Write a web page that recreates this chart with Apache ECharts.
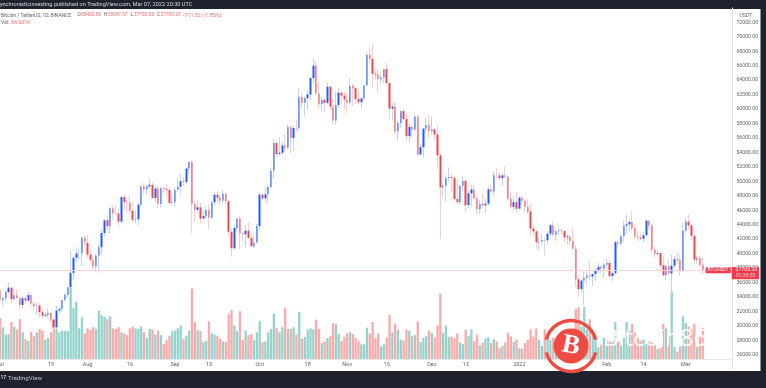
<!DOCTYPE html>
<html>
<head>
<meta charset="utf-8">
<style>html,body{margin:0;padding:0;background:#1e222d;overflow:hidden}#c{width:766px;height:388px;filter:blur(0.3px)}</style>
<script src="https://cdn.jsdelivr.net/npm/echarts@6/dist/echarts.min.js"></script>
</head>
<body>
<div id="c"></div>
<script>
const dates = [
"7/1","7/2","7/3","7/4","7/5","7/6","7/7","7/8","7/9","7/10","7/11","7/12","7/13","7/14","7/15","7/16","7/17","7/18","7/19","7/20","7/21","7/22","7/23","7/24","7/25","7/26","7/27","7/28","7/29","7/30","7/31",
"8/1","8/2","8/3","8/4","8/5","8/6","8/7","8/8","8/9","8/10","8/11","8/12","8/13","8/14","8/15","8/16","8/17","8/18","8/19","8/20","8/21","8/22","8/23","8/24","8/25","8/26","8/27","8/28","8/29","8/30","8/31",
"9/1","9/2","9/3","9/4","9/5","9/6","9/7","9/8","9/9","9/10","9/11","9/12","9/13","9/14","9/15","9/16","9/17","9/18","9/19","9/20","9/21","9/22","9/23","9/24","9/25","9/26","9/27","9/28","9/29","9/30",
"10/1","10/2","10/3","10/4","10/5","10/6","10/7","10/8","10/9","10/10","10/11","10/12","10/13","10/14","10/15","10/16","10/17","10/18","10/19","10/20","10/21","10/22","10/23","10/24","10/25","10/26","10/27","10/28","10/29","10/30","10/31",
"11/1","11/2","11/3","11/4","11/5","11/6","11/7","11/8","11/9","11/10","11/11","11/12","11/13","11/14","11/15","11/16","11/17","11/18","11/19","11/20","11/21","11/22","11/23","11/24","11/25","11/26","11/27","11/28","11/29","11/30",
"12/1","12/2","12/3","12/4","12/5","12/6","12/7","12/8","12/9","12/10","12/11","12/12","12/13","12/14","12/15","12/16","12/17","12/18","12/19","12/20","12/21","12/22","12/23","12/24","12/25","12/26","12/27","12/28","12/29","12/30","12/31",
"1/1","1/2","1/3","1/4","1/5","1/6","1/7","1/8","1/9","1/10","1/11","1/12","1/13","1/14","1/15","1/16","1/17","1/18","1/19","1/20","1/21","1/22","1/23","1/24","1/25","1/26","1/27","1/28","1/29","1/30","1/31",
"2/1","2/2","2/3","2/4","2/5","2/6","2/7","2/8","2/9","2/10","2/11","2/12","2/13","2/14","2/15","2/16","2/17","2/18","2/19","2/20","2/21","2/22","2/23","2/24","2/25","2/26","2/27","2/28",
"3/1","3/2","3/3","3/4","3/5","3/6","3/7","3/8","3/9","3/10","3/11","3/12","3/13","3/14","3/15","3/16","3/17"];

const tickDates = ["7/1","7/19","8/1","8/16","9/1","9/13","10/1","10/18","11/1","11/15","12/1","12/13","1/1","2/1","2/14","3/1","3/14"];
const tickTexts = ["Jul","19","Aug","16","Sep","13","Oct","18","Nov","15","Dec","13","2022","Feb","14","Mar","14"];

const opens = [
35040,33543,33798,34661,35288,33690,34220,33864,32876,33815,33502,34259,33086,32730,32820,31874,31384,31520,31778,30839,29796,32110,32314,33581,34292,35350,37337,39406,39995,40008,42235,
41461,39850,39147,38207,39723,40889,42834,44614,43794,46280,45593,45551,44428,47834,47110,47015,45919,44687,44741,46763,49328,48869,49285,49507,47682,48987,46852,49078,48942,48803,46993,
47100,48810,49247,50000,49918,51756,52667,46868,46048,46396,44851,45173,46026,44941,47103,48121,47738,47299,48293,47241,43016,40729,43546,44865,42810,42670,43160,42147,41025,41519,
43820,48142,47635,48200,49225,51471,55315,53785,53955,54949,54660,57471,55996,57370,57347,61672,60876,61528,62005,64280,66001,62193,60689,61286,60852,63079,60328,58413,60575,62253,61859,
61300,60911,63220,62896,61396,60941,61471,63273,67525,66947,64883,64774,64122,64380,65520,63606,60059,60345,56892,58052,59707,58617,56247,57541,57139,58961,53724,54716,57275,57777,
56951,57185,56485,53602,49152,49397,50441,50590,50472,47535,47140,49389,50053,46702,48336,48864,47632,46134,46834,46681,46914,48888,48589,50838,50822,50429,50809,50641,47623,46464,47120,
46217,47722,47287,46446,45832,43451,43082,41566,41679,41864,41820,42735,43920,42591,43099,43173,43114,42250,42375,41744,40680,36445,35071,36244,36660,36958,36809,37160,37716,38166,37881,
38466,38694,36896,37311,41574,41382,42380,43839,44042,44372,43495,42373,42217,42053,42535,44544,43873,40515,39974,40080,38386,37008,38230,37250,38328,39219,39116,37699,
43160,44421,43892,42454,39148,39398,38420];

const closes = [
33543,33798,34661,35287,33690,34220,33863,32875,33815,33502,34259,33086,32730,32820,31880,31384,31520,31778,30839,29796,32110,32314,33581,34292,35350,37337,39406,39995,40008,42235,41626,
39845,39147,38207,39723,40889,42834,44614,43792,46285,45593,45551,44428,47833,47109,47015,45919,44686,44741,46762,49327,48869,49285,49506,47682,48987,46851,49077,48942,48802,46993,47100,
48810,49246,49999,49915,51756,52663,46863,46048,46395,44851,45173,46026,44941,47112,48122,47738,47299,48293,47241,43012,40734,43543,44865,42810,42670,43160,42147,41026,41524,43824,
48141,47634,48200,49224,51471,55315,53785,53951,54949,54659,57471,55996,57367,57347,61672,60875,61528,62036,64280,66001,62193,60688,61286,60852,63078,60328,58413,60575,62253,61859,61300,
60911,63219,62896,61395,60937,61470,63273,67525,66947,64882,64774,64122,64380,65519,63606,60058,60344,56892,58052,59707,58622,56247,57541,57138,58960,53726,54721,57274,57776,56950,
57184,56480,53601,49153,49396,50441,50589,50471,47545,47140,49389,50053,46702,48343,48864,47632,46131,46834,46681,46914,48890,48589,50839,50821,50429,50809,50640,47588,46464,47120,46216,
47722,47286,46446,45832,43451,43082,41566,41679,41864,41822,42735,43920,42591,43099,43177,43114,42250,42375,41744,40680,36445,35071,36244,36660,36958,36809,37160,37716,38166,37881,38466,
38694,36896,37311,41574,41382,42380,43839,44042,44372,43495,42373,42217,42053,42535,44544,43873,40515,39974,40079,38386,37008,38230,37250,38327,39219,39116,37699,43160,
44421,43892,42454,39148,39398,38420,37709];

const highs = [
35057,33978,34950,35967,35293,35118,35059,33928,34100,34262,34666,34679,33340,33114,33185,32249,31940,32435,31899,31063,32858,32595,33650,34500,35398,40550,39542,40900,40640,42316,42448,
42599,40480,39780,39969,41350,43392,44700,45310,46454,46718,46743,46218,47886,48144,47372,48053,47160,45969,47033,49382,49757,49500,50500,49874,49320,49352,49178,49300,49666,49000,48246,
49156,50450,51000,50558,51900,52780,52920,47340,47399,47031,45989,46460,46880,47250,48500,48500,48150,48843,48372,47347,43639,44000,44978,45200,42966,43950,44350,42787,42590,44141,
48495,48360,49228,49536,51886,55750,55332,56100,55489,56561,57839,57680,57777,58532,62933,62378,61700,62695,64486,67000,66639,63732,61747,61500,63710,63293,61496,62499,62980,62359,62405,
62437,64270,63500,63086,62595,61560,63286,67789,68524,69000,65600,65450,65000,65550,66401,63617,60840,60976,58320,59845,60029,59444,58009,57735,59398,59150,55280,57445,58865,59176,
59053,57375,57600,53859,49699,50891,51936,51200,50797,50125,49485,50777,50189,48700,49500,49436,47995,47392,48300,47537,49328,49576,51375,51810,51156,51280,52088,50704,48550,47900,48548,
47954,47990,47570,47557,47070,43816,43145,42300,42786,42248,43100,44135,44500,43448,43800,43479,43176,42664,42576,43505,41100,36835,36499,37550,37545,38920,37234,38000,38720,38359,38744,
39265,38855,37387,41772,41913,42656,44500,45492,44799,45821,43920,43079,42760,42876,44751,44549,44164,40959,40444,40125,39494,38429,39249,39843,39683,40300,39855,44225,
44949,45400,44102,42527,39693,39682,39547];

const lows = [
32711,32699,33317,34357,33125,33532,33777,32078,32261,33004,33307,32658,32203,31550,31133,31020,31180,31108,30407,29278,29482,31708,31925,33402,33851,35205,36383,38772,39200,38313,41000,
39422,38690,37642,37508,37332,39853,42450,43261,42779,44660,45341,43770,44218,45971,45500,45660,44376,44203,43927,46634,48273,48120,49029,47600,47127,46315,46370,48346,47801,46853,46700,
46513,48584,48316,49370,49450,50969,42843,44412,45513,44152,44743,44743,43370,44750,46700,47020,46750,47044,46829,42500,39600,40565,43069,40675,41646,40750,42098,40888,40753,41410,
43283,47400,47088,46891,49020,50382,53357,53617,53661,54080,54415,53879,54167,56818,56850,60150,58963,59844,61322,63481,62000,60000,59562,59510,60650,59817,58000,57820,60174,60673,59945,
59405,60624,60382,60677,60721,60050,61322,63273,66222,62822,64100,62278,63360,63576,63400,58574,58373,56474,55600,57353,58486,55610,55317,55837,57000,53500,53610,53256,56666,55875,
56458,55777,51680,42000,47727,47100,50039,48600,47320,46852,46751,48638,45672,46290,46547,47511,45456,45500,46406,45558,46630,48421,47920,50384,50171,49412,50449,47313,46201,45900,45678,
46208,46654,45696,45502,42500,42430,40610,40501,41200,39650,41268,42450,42311,41725,42565,42581,41540,41250,41138,40553,35440,34008,34601,32917,35701,36230,35507,36155,37268,37351,36632,
38000,36586,36250,37026,40843,41116,41645,42667,43117,43228,42000,41688,41870,41570,42428,43307,40073,39450,39639,38000,36800,36350,37036,34322,38014,38600,37000,37450,
42809,43334,41832,38550,38586,38088,37155];

// Volume, thousands of BTC
const volumes = [
72,56,43,44,65,57,52,70,47,35,32,48,40,47,53,50,34,37,47,70,53,47,50,49,49,125,90,101,54,74,45,
54,51,56,53,85,77,74,70,75,54,53,56,47,45,42,54,57,54,53,57,47,37,53,52,43,50,42,26,33,41,49,
50,54,59,35,41,50,124,65,51,49,30,32,66,45,43,41,36,31,30,79,86,59,49,84,34,50,42,44,33,47,
67,30,31,47,53,80,55,47,56,90,53,53,56,43,83,36,39,52,54,52,69,53,28,31,37,40,63,62,44,32,39,
45,47,44,37,32,26,26,55,45,65,37,45,22,26,38,78,47,62,51,34,32,52,50,40,42,66,30,37,40,50,
46,38,59,115,46,59,39,39,37,45,29,26,51,40,52,32,43,24,29,36,38,28,35,31,19,23,29,46,40,30,34,
19,18,28,34,52,39,54,34,23,52,38,34,38,37,34,28,31,28,25,40,88,91,57,92,52,70,41,37,21,25,37,
35,31,30,65,31,31,37,65,49,62,46,37,32,34,26,31,29,25,18,19,62,54,43,119,21,13,22,75,
63,57,52,62,21,40,54.501];

const priceTicksMin = 24000, priceTicksMax = 74000, priceStep = 2000;
const lastPrice = 37709.29;

const wickData = opens.map((o, i) => [o, closes[i], lows[i], highs[i]]);
const bodyData = opens.map((o, i) => [o, closes[i], Math.min(o, closes[i]), Math.max(o, closes[i])]);
const volData = volumes.map((v, i) => ({
  value: v,
  itemStyle: { color: closes[i] < opens[i] ? '#f9aaa9' : '#93d3cc' }
}));

const UI = 'Roboto, sans-serif';
const leg = (x, t, fill, size) => ({ type: 'text', z: 100, x: x, y: 12.8, style: { text: t, fill: fill, font: (size || 4.8) + 'px ' + UI } });
const GR = '#5a5e68', RD = '#f26a6a';

const chart = echarts.init(document.getElementById('c'), null, { renderer: 'canvas' });
chart.setOption({
  animation: false,
  backgroundColor: '#1e222d',
  grid: [
    { left: -1.3, top: 7.9, width: 733.7, height: 361.25, outerBoundsMode: 'none' },
    { left: -1.3, top: 250, width: 733.7, height: 109, outerBoundsMode: 'none' }
  ],
  xAxis: [
    { type: 'category', gridIndex: 0, data: dates, show: false },
    { type: 'category', gridIndex: 1, data: dates,
      axisLine: { show: true, lineStyle: { color: '#e6e8ee', width: 1 } },
      axisTick: { show: false },
      splitLine: { show: false },
      axisLabel: {
        show: true, color: '#60646e', fontFamily: UI, fontSize: 5.5, margin: 3,
        hideOverlap: false, showMinLabel: true, showMaxLabel: false,
        interval: (i, v) => tickDates.includes(v),
        formatter: v => { const k = tickDates.indexOf(v); return k < 0 ? '' : tickTexts[k]; }
      }
    }
  ],
  yAxis: [
    { type: 'value', gridIndex: 0, position: 'right', scale: true,
      min: priceTicksMin, max: priceTicksMax, interval: priceStep,
      axisLine: { show: true, lineStyle: { color: '#e0e3eb', width: 1 } },
      axisTick: { show: false }, splitLine: { show: false },
      axisLabel: { color: '#60646e', fontFamily: UI, fontSize: 5.2, margin: 4, align: 'left',
        formatter: v => (v === priceTicksMin || v === priceTicksMax) ? '' : v.toFixed(2) }
    },
    { type: 'value', gridIndex: 1, min: 0, max: 191.7, show: false }
  ],
  series: [
    { name: 'Vol', type: 'bar', xAxisIndex: 1, yAxisIndex: 1, data: volData, barWidth: 2.3, z: 1 },
    { name: 'Wicks', type: 'candlestick', xAxisIndex: 0, yAxisIndex: 0, data: wickData, barWidth: 1, z: 3,
      itemStyle: { color: '#c3d4fc', color0: '#fccacd', borderColor: '#c3d4fc', borderColor0: '#fccacd', borderWidth: 1 },
      markLine: { silent: true, symbol: 'none', animation: false, label: { show: false },
        lineStyle: { color: '#fbd5d8', width: 1, type: 'solid' },
        data: [{ yAxis: lastPrice }] }
    },
    { name: 'Bitcoin / TetherUS', type: 'candlestick', xAxisIndex: 0, yAxisIndex: 0, data: bodyData, barWidth: 2, z: 4,
      itemStyle: { color: '#1f5cff', color0: '#f04449', borderColor: '#1f5cff', borderColor0: '#f04449', borderWidth: 0 }
    }
  ],
  graphic: { elements: [
    { type: 'rect', z: -10, silent: true, shape: { x: 0, y: 9, width: 760.5, height: 362 }, style: { fill: '#ffffff' } },
    { type: 'text', z: 100, x: -3, y: 1.6, style: { text: 'synchronisticinvesting published on TradingView.com, Mar 07, 2022 20:30 UTC', fill: '#d6d8de', font: '5.6px ' + UI } },
    leg(1, 'Bitcoin / TetherUS, 1D, BINANCE', GR, 4.9),
    leg(77.5, 'O', GR), leg(81, '38420.80', RD),
    leg(104, 'H', GR), leg(107.5, '39547.57', RD),
    leg(130.7, 'L', GR), leg(134, '37155.00', RD),
    leg(157, 'C', GR), leg(160.5, '37709.29', RD),
    leg(183, '-711.52 (-1.85%)', RD, 5.3),
    { type: 'text', z: 100, x: 1, y: 20.3, style: { text: 'Vol', fill: GR, font: '5.3px ' + UI } },
    { type: 'text', z: 100, x: 11, y: 20.3, style: { text: '54.501K', fill: RD, font: '5.3px ' + UI } },
    { type: 'rect', z: 100, shape: { x: 738, y: 13, width: 15, height: 6, r: 1.5 }, style: { fill: '#fff', stroke: '#dfe2e8', lineWidth: 0.6 } },
    { type: 'text', z: 101, x: 739.5, y: 13.4, style: { text: 'USDT', fill: '#60646e', font: '5px ' + UI } },
    { type: 'rect', z: 100, shape: { x: 705.7, y: 267.3, width: 25, height: 6, r: 0.5 }, style: { fill: '#f23a4c' } },
    { type: 'text', z: 101, x: 707.5, y: 267.8, style: { text: 'BTCUSDT', fill: '#fff', font: '4.8px ' + UI } },
    { type: 'rect', z: 100, shape: { x: 731.7, y: 267, width: 27.3, height: 12.2, r: 0.5 }, style: { fill: '#f23a4c' } },
    { type: 'text', z: 101, x: 735.5, y: 267.6, style: { text: '37709.29', fill: '#fff', font: '5.2px ' + UI } },
    { type: 'text', z: 101, x: 736, y: 273.4, style: { text: '01:29:55', fill: '#ffd9dc', font: '5px ' + UI } },
    { type: 'text', z: 100, x: 0.5, y: 375.5, style: { text: '17', fill: '#cfd2d8', font: 'bold 5px ' + UI } },
    { type: 'text', z: 100, x: 8, y: 375, style: { text: 'TradingView', fill: '#c2c5cc', font: '6.2px ' + UI } },
    // watermark
    { type: 'arc', z: 110, shape: { cx: 571, cy: 346, r: 25.5, startAngle: Math.PI * 1.08, endAngle: Math.PI * 1.92 }, style: { stroke: '#ee4c42', lineWidth: 3.4, fill: 'none' } },
    { type: 'arc', z: 110, shape: { cx: 571, cy: 346, r: 25.5, startAngle: Math.PI * 0.08, endAngle: Math.PI * 0.92 }, style: { stroke: '#ee4c42', lineWidth: 3.4, fill: 'none' } },
    { type: 'circle', z: 110, shape: { cx: 571, cy: 346, r: 17.5 }, style: { fill: '#ee4c42' } },
    { type: 'text', z: 111, x: 571, y: 346, rotation: -0.2, style: { text: 'B', fill: '#fff', align: 'center', verticalAlign: 'middle', font: 'bold 27px "Liberation Serif"' } },
    { type: 'text', z: 110, x: 603, y: 327, style: { text: 'Bitcoin86', fill: '#ffffff', font: '24px "Open Sans"' } }
  ] }
});
</script>
</body>
</html>
